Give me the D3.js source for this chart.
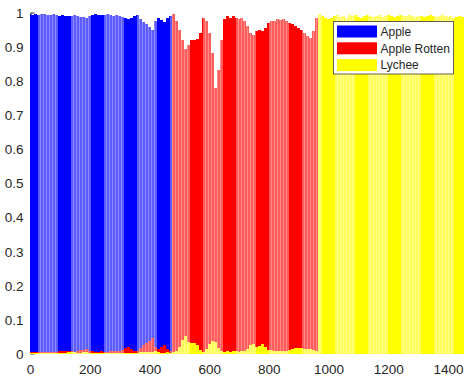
<!DOCTYPE html>
<html><head><meta charset="utf-8">
<script src="https://cdn.jsdelivr.net/npm/d3@7"></script>
<style>
html,body{margin:0;padding:0;background:#fff;}
svg{display:block;font-family:"Liberation Sans",Arial,Helvetica,sans-serif;}
</style></head>
<body>
<svg id="chart" width="464" height="377"></svg>
<script>
// ---- data (one value per group of 10 samples, group centre = sample index) ----
const seriesNames = ["Apple", "Apple Rotten", "Lychee"];
const seriesColors = ["#0000ff", "#ff0000", "#ffff00"];
const xTickValues = [0, 200, 400, 600, 800, 1000, 1200, 1400];
const xTickLabels = ["0", "200", "400", "600", "800", "1000", "1200", "1400"];
const yTickValues = [0, 0.1, 0.2, 0.3, 0.4, 0.5, 0.6, 0.7, 0.8, 0.9, 1];
const yTickLabels = ["0", "0.1", "0.2", "0.3", "0.4", "0.5", "0.6", "0.7", "0.8", "0.9", "1"];

const apple = [
 0.995,0.993,0.995,0.994,0.996,0.995,0.993,0.994,0.995,0.993,
 0.990,0.992,0.990,0.991,0.990,0.992,0.990,0.988,0.986,0.985,
 0.990,0.993,0.995,0.994,0.993,0.994,0.995,0.993,0.990,0.992,
 0.990,0.988,0.983,0.980,0.985,0.990,0.992,0.980,0.972,0.965,
 0.958,0.950,0.975,0.985,0.978,0.973,0.983,0.990,
 0.001,0.019,0.030,0.040,0.057,0.060,0.052,0.048,0.053,0.050,
 0.010,0.013,0.032,0.082,0.185,0.155,0.074,0.015,0.004,0.010,
 0.003,0.009,0.015,0.009,0.018,0.028,0.035,0.037,0.035,0.028,
 0.027,0.027,0.020,0.016,0.017,0.012,0.015,0.012,0.017,0.020,
 0.021,0.024,0.030,0.033,0.046,0.058,0.062,0.045,0.009,
 0.002,0.004,0.006,0.008,0.006,0.004,0.003,0.005,0.004,0.006,
 0.003,0.004,0.002,0.005,0.006,0.004,0.003,0.004,0.006,0.004,
 0.003,0.005,0.004,0.003,0.004,0.005,0.004,0.003,0.004,0.004,
 0.003,0.004,0.005,0.004,0.004,0.006,0.004,0.003,0.004,0.005,
 0.004,0.003,0.004,0.005,0.004,0.006,0.005,0.004,0.006
];
const appleRotten = [
 0.004,0.005,0.004,0.005,0.003,0.004,0.005,0.005,0.004,0.005,
 0.008,0.007,0.008,0.006,0.007,0.005,0.008,0.010,0.011,0.012,
 0.008,0.006,0.004,0.005,0.006,0.005,0.004,0.006,0.008,0.007,
 0.008,0.010,0.015,0.018,0.013,0.008,0.006,0.016,0.024,0.031,
 0.038,0.045,0.018,0.012,0.020,0.025,0.014,0.008,
 0.995,0.975,0.950,0.920,0.893,0.905,0.918,0.920,0.922,0.940,
 0.985,0.975,0.940,0.880,0.780,0.830,0.920,0.980,0.990,0.985,
 0.990,0.985,0.980,0.985,0.975,0.960,0.940,0.935,0.945,0.950,
 0.945,0.955,0.970,0.975,0.975,0.980,0.978,0.980,0.975,0.970,
 0.965,0.960,0.955,0.950,0.940,0.930,0.925,0.945,0.985,
 0.003,0.006,0.009,0.012,0.009,0.006,0.005,0.007,0.006,0.009,
 0.005,0.006,0.004,0.007,0.009,0.006,0.004,0.006,0.008,0.006,
 0.005,0.007,0.006,0.004,0.006,0.008,0.006,0.005,0.007,0.006,
 0.004,0.006,0.007,0.005,0.006,0.008,0.006,0.005,0.006,0.007,
 0.006,0.004,0.006,0.008,0.006,0.009,0.007,0.006,0.008
];
const lychee = [
 0.001,0.001,0.001,0.001,0.001,0.001,0.001,0.001,0.001,0.001,
 0.002,0.001,0.002,0.003,0.003,0.003,0.002,0.002,0.003,0.003,
 0.002,0.001,0.001,0.001,0.001,0.001,0.001,0.001,0.002,0.001,
 0.002,0.002,0.002,0.002,0.002,0.002,0.002,0.004,0.004,0.004,
 0.004,0.005,0.007,0.003,0.002,0.002,0.003,0.002,
 0.004,0.006,0.020,0.040,0.050,0.035,0.030,0.032,0.025,0.010,
 0.005,0.012,0.028,0.038,0.035,0.015,0.006,0.005,0.006,0.005,
 0.007,0.006,0.005,0.006,0.007,0.012,0.025,0.028,0.020,0.022,
 0.028,0.018,0.010,0.009,0.008,0.008,0.007,0.008,0.008,0.010,
 0.014,0.016,0.015,0.017,0.014,0.012,0.013,0.010,0.006,
 0.995,0.990,0.985,0.980,0.985,0.990,0.992,0.988,0.990,0.985,
 0.992,0.990,0.994,0.988,0.985,0.990,0.993,0.990,0.986,0.990,
 0.992,0.988,0.990,0.993,0.990,0.987,0.990,0.992,0.989,0.990,
 0.993,0.990,0.988,0.991,0.990,0.986,0.990,0.992,0.990,0.988,
 0.990,0.993,0.990,0.987,0.990,0.985,0.988,0.990,0.986
];
const groupSize = 10;
const sampleIndex = apple.map((_, i) => i * groupSize);
const series = [apple, appleRotten, lychee];

// ---- layout ----
const svg = d3.select("#chart");
const x = d3.scaleLinear().domain([0, 1400]).range([30, 448]);
const y = d3.scaleLinear().domain([0, 1]).range([353.5, 12.5]);
const textColor = "#262626";

// moire-like banding of the original raster (solid / lighter stripes)
const bandStyles = [
  {solid: "#0000ff", light: "#5c5cff", line: "#8a8aff"},
  {solid: "#ff0000", light: "#ff5c5c", line: "#ff8a8a"},
  {solid: "#ffff00", light: "#ffff5c", line: "#ffff8a"}
];
const defs = svg.append("defs");
bandStyles.forEach((b, i) => {
  const p = defs.append("pattern").attr("id", "band" + i)
    .attr("patternUnits", "userSpaceOnUse")
    .attr("x", 25).attr("y", 0).attr("width", 33).attr("height", 400);
  p.append("rect").attr("x", 0).attr("y", 0).attr("width", 13).attr("height", 400).attr("fill", b.solid);
  p.append("rect").attr("x", 13).attr("y", 0).attr("width", 20).attr("height", 400).attr("fill", b.light);
  d3.range(15, 33, 3).forEach(lx => {
    p.append("rect").attr("x", lx).attr("y", 0).attr("width", 1).attr("height", 400).attr("fill", b.line);
  });
});
defs.append("clipPath").attr("id", "plotClip")
  .append("rect").attr("x", 30).attr("y", 0).attr("width", 440).attr("height", 354);

// axes (drawn under the bars, like MATLAB's bottom layer)
const yAxis = d3.axisLeft(y).tickValues(yTickValues)
  .tickFormat((d, i) => yTickLabels[i]).tickSize(-4).tickSizeOuter(0).tickPadding(7);
const gy = svg.append("g").attr("transform", "translate(30.5,0)").call(yAxis);
gy.select(".domain").attr("stroke", textColor);
gy.selectAll(".tick line").attr("stroke", textColor);
gy.selectAll("text").attr("fill", textColor).style("font-size", "13.5px")
  .attr("dy", "0.36em").style("font-family", "'Liberation Sans',Arial,sans-serif");

const xAxis = d3.axisBottom(x).tickValues(xTickValues)
  .tickFormat((d, i) => xTickLabels[i]).tickSize(0).tickPadding(10.5);
const gx = svg.append("g").attr("transform", "translate(0,353.5)").call(xAxis);
gx.select(".domain").remove();
gx.selectAll("text").attr("fill", textColor).style("font-size", "13.5px")
  .style("font-family", "'Liberation Sans',Arial,sans-serif");

// bars: each series drawn over the previous (overlapping, not stacked)
const plot = svg.append("g").attr("clip-path", "url(#plotClip)");
series.forEach((vals, si) => {
  plot.append("g").selectAll("rect")
    .data(vals.map((v, i) => ({s: sampleIndex[i], v})))
    .join("rect")
    .attr("x", d => x(d.s - groupSize / 2))
    .attr("width", d => x(d.s + groupSize / 2) - x(d.s - groupSize / 2))
    .attr("y", d => y(d.v))
    .attr("height", d => y(0) - y(d.v))
    .attr("fill", "url(#band" + si + ")")
    .attr("shape-rendering", "crispEdges");
});

// legend
const lg = svg.append("g");
lg.append("rect").attr("x", 333.5).attr("y", 21.5).attr("width", 120).attr("height", 52.5)
  .attr("fill", "#fff").attr("stroke", "#3a3a3a").attr("stroke-width", 0.8);
seriesNames.forEach((name, i) => {
  const cy = 31.5 + i * 16.8;
  lg.append("rect").attr("x", 337).attr("y", cy - 6).attr("width", 40).attr("height", 12)
    .attr("fill", seriesColors[i]);
  lg.append("text").attr("x", 380.5).attr("y", cy).attr("dy", "0.36em")
    .attr("fill", textColor).style("font-size", "12px").text(name);
});
</script>
</body></html>
